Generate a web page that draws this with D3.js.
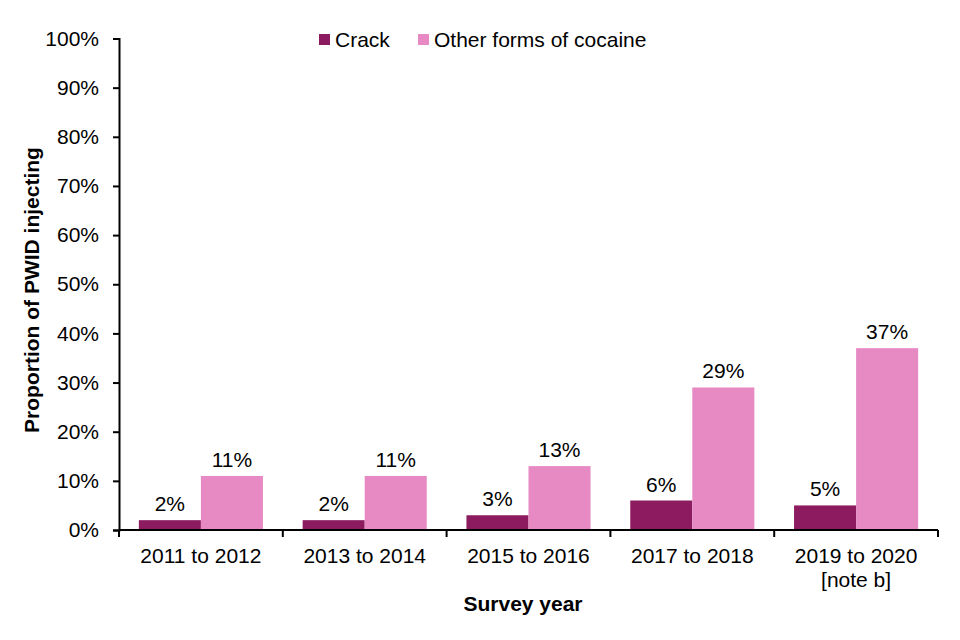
<!DOCTYPE html>
<html>
<head>
<meta charset="utf-8">
<script src="https://cdnjs.cloudflare.com/ajax/libs/d3/7.8.5/d3.min.js"></script>
<style>
  body { margin: 0; background: #fff; }
  text { font-family: "Liberation Sans", Arial, sans-serif; fill: #000; }
</style>
</head>
<body>
<svg id="chart" width="960" height="640"></svg>
<script>
// data
var years = ["2011 to 2012", "2013 to 2014", "2015 to 2016", "2017 to 2018", "2019 to 2020|[note b]"];
var crack = [2, 2, 3, 6, 5];
var otherCocaine = [11, 11, 13, 29, 37];
var seriesNames = ["Crack", "Other forms of cocaine"];
var seriesColors = ["#8c1c5f", "#e78ac3"];
var yTicks = [0, 10, 20, 30, 40, 50, 60, 70, 80, 90, 100];

var svg = d3.select("#chart");
var margin = {left: 119, right: 22, top: 38.5, bottom: 110};
var W = 960, H = 640;

var x = d3.scaleBand().domain(years).range([margin.left, W - margin.right]);
var inner = d3.scaleBand().domain([0, 1])
  .range([0, x.bandwidth()]).paddingOuter(0.32);
var y = d3.scaleLinear().domain([0, 100]).range([H - margin.bottom, margin.top]);

// bars
var series = [crack, otherCocaine];
series.forEach(function (vals, s) {
  var g = svg.append("g");
  g.selectAll("rect").data(vals).enter().append("rect")
    .attr("x", function (d, i) { return x(years[i]) + inner(s); })
    .attr("y", function (d) { return y(d); })
    .attr("width", inner.bandwidth())
    .attr("height", function (d) { return y(0) - y(d); })
    .attr("fill", seriesColors[s]);
  g.selectAll("text").data(vals).enter().append("text")
    .attr("x", function (d, i) { return x(years[i]) + inner(s) + inner.bandwidth() / 2; })
    .attr("y", function (d) { return y(d) - 9; })
    .attr("text-anchor", "middle")
    .style("font-size", "21px")
    .text(function (d) { return d + "%"; });
});

// y axis
var yAxis = svg.append("g")
  .attr("transform", "translate(" + margin.left + ",0)")
  .call(d3.axisLeft(y).tickValues(yTicks).tickSize(6).tickPadding(14)
    .tickFormat(function (d) { return d + "%"; }));
yAxis.select(".domain").attr("stroke", "#000").attr("stroke-width", 2);
yAxis.selectAll(".tick line").attr("stroke", "#000").attr("stroke-width", 2);
yAxis.selectAll(".tick text").style("font-size", "21px").attr("fill", "#000")
  .style("font-family", "Liberation Sans, Arial, sans-serif");

// x axis: ticks between categories
var xg = svg.append("g").attr("transform", "translate(0," + y(0) + ")");
xg.append("line").attr("x1", margin.left).attr("x2", W - margin.right)
  .attr("stroke", "#000").attr("stroke-width", 2);
var bounds = years.map(function (d) { return x(d); }).concat([x.range()[1]]);
xg.selectAll(".sep").data(bounds).enter().append("line")
  .attr("x1", function (d) { return d; }).attr("x2", function (d) { return d; })
  .attr("y1", 0).attr("y2", 7)
  .attr("stroke", "#000").attr("stroke-width", 2);
xg.selectAll(".lbl").data(years).enter().append("text")
  .attr("text-anchor", "middle")
  .attr("x", function (d) { return x(d) + x.bandwidth() / 2; })
  .style("font-size", "21px")
  .each(function (d) {
    var t = d3.select(this);
    d.split("|").forEach(function (line, i) {
      t.append("tspan").attr("x", x(d) + x.bandwidth() / 2)
        .attr("y", 33 + i * 24).text(line);
    });
  });

// axis titles
svg.append("text")
  .attr("x", 523).attr("y", 611)
  .attr("text-anchor", "middle")
  .style("font-size", "21px").style("font-weight", "bold")
  .text("Survey year");
svg.append("text")
  .attr("transform", "translate(39,290) rotate(-90)")
  .attr("text-anchor", "middle")
  .style("font-size", "21px").style("font-weight", "bold")
  .text("Proportion of PWID injecting");

// legend
var legX = [319, 418];
seriesNames.forEach(function (name, i) {
  svg.append("rect").attr("x", legX[i]).attr("y", 34)
    .attr("width", 11).attr("height", 11).attr("fill", seriesColors[i]);
  svg.append("text").attr("x", legX[i] + 16).attr("y", 47)
    .style("font-size", "21px").text(name);
});
</script>
</body>
</html>
